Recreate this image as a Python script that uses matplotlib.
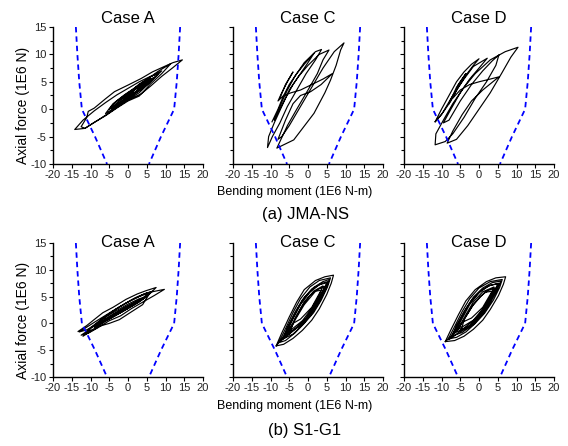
import matplotlib
matplotlib.use("Agg")
import matplotlib.pyplot as plt
from matplotlib.ticker import MultipleLocator

plt.rcParams['font.family'] = ['Liberation Sans', 'DejaVu Sans']
plt.rcParams['axes.unicode_minus'] = False

# interaction surface (bending moment vs axial force), 1E6 units
env_left = [(-13.9, 15), (-13.5, 10), (-13.0, 5), (-12.3, 0), (-8.8, -5), (-5.6, -10)]
env_right = [(13.9, 15), (13.5, 10), (13.0, 5), (12.3, 0), (8.8, -5), (5.6, -10)]

# hysteresis paths (M, N)
jma_case_a = [(0, 2.5), (3, 4.3), (6, 5.8), (4, 4.2), (1, 2.6), (-2, 1.2), (-4, 0.3), (-2, 1.8), (0, 2.8),
              (3, 4.6), (7, 6.3), (9, 7), (6, 5), (3, 3), (0, 1.8), (-3, 0.5), (-6, -0.8), (-4, 1), (-1, 2.6),
              (2, 4), (5, 5.4), (8, 6.9), (11.4, 8.3), (9, 6.5), (6, 4.6), (3, 2.4), (0, 1.5), (-3, 0.2),
              (-6, -1.2), (-9, -2.4), (-11.5, -3.5), (-12.5, -3.2), (-11, -1.5), (-10.6, -0.4), (-9, 0.2),
              (-6, 1.9), (-3.6, 3.2), (0, 4.4), (3.5, 5.6), (6.5, 6.8), (9.7, 7.8), (12, 8.5), (14.5, 9.0),
              (12, 7.6), (9, 6), (6, 4.2), (3.5, 2.8), (0, 1.7), (-3.6, 0), (-8, -2), (-11.5, -3.5), (-14.2, -3.7),
              (-12, -2), (-9, -0.3), (-6, 1.2), (-3, 2.6), (0, 3.8), (3, 5), (6, 6), (8, 6.4), (6, 5), (3, 3.4),
              (0, 2.2), (-3, 0.8), (-5, 0), (-3, 1.5), (0, 3), (2, 3.8), (4, 4.6), (2, 3), (0, 2), (-2, 1),
              (0, 2.6), (2.5, 3.9), (5, 5), (7, 5.8), (5, 4.4), (2.5, 3.1), (0, 2), (-2.5, 0.9), (-4.5, 0.1),
              (-2.5, 1.4), (0, 2.9), (3, 4.4), (6, 5.6), (4, 4.1), (1.5, 2.8), (-1, 1.5), (-3, 0.6), (-1, 2),
              (1.5, 3.4), (4.5, 4.8), (7.5, 6), (5, 4.7), (2, 3.2), (0, 2.4)]

jma_case_c = [(-9.6, -2.3), (-8, 0), (-6.5, 2.5), (-5, 4.5), (-3, 6.5), (-1, 8.2), (1.6, 10.2), (0, 8.5),
              (-2, 6.5), (-4, 4.5), (-6, 2), (-7.5, 0), (-9, -2), (-7.5, 0.5), (-5.5, 3.5), (-3.5, 6), (-1, 8.5),
              (2, 10.5), (3.6, 10.9), (2, 9), (-0.5, 6.5), (-3, 3.5), (-5.5, 0.5), (-7.5, -2.5), (-9.5, -5),
              (-10.8, -7.0), (-10.5, -5), (-9, -2.5), (-7, 0.5), (-5, 3.5), (-2.5, 6), (0, 8), (3, 10), (5.6, 10.8),
              (4, 9), (2.5, 6.5), (0, 3.5), (-3, 0), (-5.5, -3), (-8.3, -7.1), (-3.8, -5.6), (1.6, -0.75),
              (4.5, 3), (6, 5.3), (7.5, 8), (8.7, 10.8), (9.6, 12.1), (7, 10.5), (4, 7.5), (1, 4), (-2, 0.5),
              (-5, -3), (-7, -5), (-8, -5.5), (-6, -2), (-4, 1), (-2, 2.5), (0.7, 3.2), (3.5, 4.5), (6.5, 6.5),
              (4, 5.5), (1, 4.5), (-2, 3.5), (-4.5, 3), (-6.5, 2.5), (-8, 1.5), (-7, 3), (-5.5, 5), (-4, 6.8),
              (-6, 4.5), (-7.5, 2)]

jma_case_d = [(-11.7, -2.3), (-10, 0), (-8, 2.5), (-6, 5), (-4, 6.8), (-2, 8.2), (0, 9.2), (-1.5, 8),
              (-3.5, 6.2), (-5.5, 4), (-7.5, 1.5), (-9.5, -0.5), (-11.7, -2.3), (-10, -1), (-7, 2.5), (-4, 5.5),
              (-1.5, 7.8), (2.2, 9.3), (0, 7.5), (-2.5, 5.5), (-5, 3), (-7.5, 0), (-9.5, -2.5), (-8, -2),
              (-5, 1.5), (-2, 4.5), (1, 7), (3.5, 8.8), (5.3, 9.9), (4.5, 8), (2, 5), (-1, 2), (-4, -1.5),
              (-7, -4.5), (-9, -5.9), (-11.7, -6.5), (-11.5, -4.5), (-9.5, -2), (-7, 1), (-4, 4), (-1, 6.5),
              (3, 9), (7, 10.5), (10.4, 11.3), (8.5, 9.5), (6, 6.5), (3, 3), (0, 0), (-3, -3), (-6, -5.5),
              (-8.5, -6.2), (-7, -4), (-4.5, -1), (-2, 1.5), (1, 3.5), (5.3, 5.9), (3, 5.5), (0, 5), (-2.5, 4.5),
              (-5, 3.5), (-7, 2), (-5.5, 4.5), (-3.5, 6.5), (-6, 4), (-8, 1)]

s1_case_a = [(-13.3, -1.5), (-11, -0.4), (-8.5, 1), (-6.7, 2), (-4, 3), (-0.5, 4.5), (2.5, 5.5), (4.8, 6.1),
             (7.5, 6.7), (5.5, 5.3), (3.9, 3.5), (1, 2.2), (-2.3, 0.7), (-5, 0), (-7.5, -0.5), (-10, -1.5),
             (-12, -2.4), (-10, -0.8), (-7, 0.8), (-4, 2.3), (-1, 3.6), (2, 4.8), (5, 5.7), (9.7, 6.35),
             (7, 5.2), (4, 4), (1, 2.8), (-2, 1.4), (-5, 0.5), (-8, -0.8), (-10.5, -1.8), (-12.5, -2.2),
             (-10, -1), (-7.5, 0.5), (-5, 1.8), (-2, 3.2), (1, 4.4), (4, 5.4), (6.5, 6), (4, 4.6), (1, 3.4),
             (-2, 2), (-5, 0.9), (-8, 0), (-11, -1.2), (-13, -1.6), (-9, 0.2), (-6, 1.5), (-3, 2.8), (0, 4),
             (3, 5), (6, 5.8), (3, 4.3), (0, 3), (-3, 1.8), (-6, 0.6), (-9, -0.5), (-6, 1.2), (-3, 2.4),
             (0, 3.6), (3, 4.6), (5, 5), (2, 3.6), (-1, 2.4), (-4, 1.3), (-7, 0.2), (-4, 1.6), (-1, 2.9),
             (2, 4), (4.5, 4.9), (2.5, 3.9), (-0.5, 2.6), (-3.5, 1.4), (-6.5, 0.3), (-9, -0.8), (-6, 0.9),
             (-3, 2.1), (0, 3.3), (3, 4.3), (5.5, 5.3), (3, 4), (0, 2.8), (-3, 1.6), (-6, 0.4), (-9, -1),
             (-11, -1.6)]

s1_case_c = [(-8.5, -4.2), (-7, -1.8), (-5, 1.2), (-3, 4), (-1, 6.3), (2, 8), (4.5, 8.7), (6.8, 9.0),
             (6.2, 7.5), (5, 5.4), (3, 2.7), (1, 0.6), (-1.5, -1.3), (-4, -2.8), (-6.5, -3.9), (-8.5, -4.2),
             (-7.8, -3.6), (-6, -1), (-4, 2), (-2, 4.6), (0.5, 6.8), (3, 8), (6, 8.5), (5.2, 6.8), (3.5, 4.3),
             (1.5, 2), (-1, 0), (-3.5, -1.8), (-6, -3.2), (-7.8, -3.6), (-7, -3), (-5, -0.3), (-3, 2.5),
             (-1, 4.8), (1.5, 6.7), (4, 7.8), (5.7, 8.2), (4.8, 6.5), (3, 4), (1, 1.8), (-1.5, -0.3), (-4, -2),
             (-7, -3), (-6, -2.2), (-4, 0.8), (-2, 3.5), (0.5, 5.8), (3, 7.2), (5, 7.6), (4, 6), (2, 3.5),
             (0, 1.3), (-2.5, -0.6), (-6, -2.2), (-5, -1.5), (-3, 1.5), (-1, 4), (1.5, 6), (4, 7), (3, 5.2),
             (1, 2.8), (-1.5, 0.5), (-5, -1.5), (-4, 0), (-1, 3.5), (2, 6), (3.5, 6.2), (1, 3), (-2, 0.8), (-4, 0),
             (-6.5, -2.8), (-5.5, -0.8), (-3.5, 2), (-1.5, 4.4), (1, 6.4), (3.5, 7.4), (5.3, 7.8), (4.3, 6.2),
             (2.5, 3.8), (0.5, 1.6), (-2, -0.3), (-5, -2), (-3.5, 0.8), (-1.5, 3.3), (0.5, 5.2), (2.5, 6.3),
             (4.5, 6.9), (3.2, 5), (1.5, 3), (-0.5, 1), (-3, -0.7), (-6, -2.6), (-7.5, -3.4)]

s1_case_d = [(-9, -3.4), (-7.5, -1.2), (-5.5, 1.6), (-3.5, 4.2), (-1, 6.3), (2, 7.8), (4.5, 8.5), (7.1, 8.7),
             (6.5, 7.3), (5.2, 5.2), (3, 2.6), (1, 0.6), (-1.5, -1.1), (-4, -2.4), (-6.5, -3.2), (-9, -3.4),
             (-8.2, -2.9), (-6.5, -0.6), (-4.5, 2.2), (-2.5, 4.6), (0, 6.6), (3, 7.8), (6.2, 8.2), (5.5, 6.7),
             (3.8, 4.3), (1.5, 1.9), (-1, 0), (-3.5, -1.6), (-6, -2.6), (-8.2, -2.9), (-7.4, -2.4), (-5.5, 0),
             (-3.5, 2.7), (-1.5, 4.9), (1, 6.6), (3.5, 7.6), (5.8, 7.9), (4.9, 6.3), (3, 3.8), (1, 1.7),
             (-1.5, -0.2), (-4.5, -1.7), (-7.4, -2.4), (-6.5, -1.8), (-4.5, 0.9), (-2.5, 3.5), (0, 5.7),
             (2.5, 7), (5, 7.4), (4, 5.8), (2, 3.4), (0, 1.3), (-2.5, -0.4), (-6.5, -1.8), (-5.5, -1.1),
             (-3.5, 1.6), (-1.5, 4), (1, 5.9), (4, 6.8), (3, 5), (1, 2.7), (-1.5, 0.6), (-5.5, -1.1),
             (-4.5, 0.2), (-1.5, 3.5), (1.5, 5.8), (3.5, 6), (1, 3), (-2, 1), (-4.5, 0.2), (-7, -2.2),
             (-6, -0.4), (-4, 2.2), (-2, 4.3), (0.5, 6.1), (3, 7.1), (5.3, 7.5), (4.4, 6), (2.5, 3.6),
             (0.5, 1.5), (-2, -0.3), (-5, -1.6), (-3.8, 0.9), (-1.8, 3.2), (0.3, 5), (2.3, 6.1), (4.3, 6.6),
             (3, 4.8), (1.3, 2.8), (-0.8, 0.9), (-3.5, -0.6), (-6.5, -2.3), (-8, -3)]

case_titles = ["Case A", "Case C", "Case D"]
row_titles = ["(a) JMA-NS", "(b) S1-G1"]
rows = [[jma_case_a, jma_case_c, jma_case_d], [s1_case_a, s1_case_c, s1_case_d]]

W, H = 568, 446
fig = plt.figure(figsize=(W / 100, H / 100), dpi=100)

lefts = [53, 233, 404]
ax_w = 150
row_px = [(27, 164), (243, 377)]   # (top, bottom) in pixels

for r, (top, bot) in enumerate(row_px):
    for c in range(3):
        ax = fig.add_axes([lefts[c] / W, 1 - bot / H, ax_w / W, (bot - top) / H])
        pts = rows[r][c]
        ax.plot([p[0] for p in pts], [p[1] for p in pts], color='black', lw=0.85)
        for env in (env_left, env_right):
            ax.plot([p[0] for p in env], [p[1] for p in env], color='#0000ff', lw=1.3,
                    dashes=(3, 2.2))
        ax.set_xlim(-20, 20)
        ax.set_ylim(-10, 15)
        ax.set_xticks(range(-20, 21, 5))
        ax.set_yticks(range(-10, 16, 5))
        ax.yaxis.set_minor_locator(MultipleLocator(2.5))
        ax.spines['top'].set_visible(False)
        ax.spines['right'].set_visible(False)
        for s in ('left', 'bottom'):
            ax.spines[s].set_linewidth(1.0)
        ax.tick_params(axis='both', which='major', labelsize=8, length=3, width=0.8,
                       pad=1.5, labelcolor='#222222')
        ax.tick_params(axis='y', which='minor', length=2, width=0.8)
        if c > 0:
            ax.tick_params(axis='y', labelleft=False)
        fig.text((lefts[c] + ax_w / 2) / W, 1 - (top - 4 if r == 0 else top + 4) / H,
                 case_titles[c], ha='center', va='baseline', fontsize=12)

    fig.text(23 / W, 1 - ((top + bot) / 2 + 10) / H, "Axial force (1E6 N)", rotation=90,
             ha='center', va='center', fontsize=10)

fig.text(295 / W, 1 - 192 / H, "Bending moment (1E6 N-m)", ha='center', va='center', fontsize=9)
fig.text(305 / W, 1 - 214 / H, row_titles[0], ha='center', va='center', fontsize=12)
fig.text(295 / W, 1 - 406 / H, "Bending moment (1E6 N-m)", ha='center', va='center', fontsize=9)
fig.text(305 / W, 1 - 430 / H, row_titles[1], ha='center', va='center', fontsize=12)

fig.savefig("out.png", dpi=100)
